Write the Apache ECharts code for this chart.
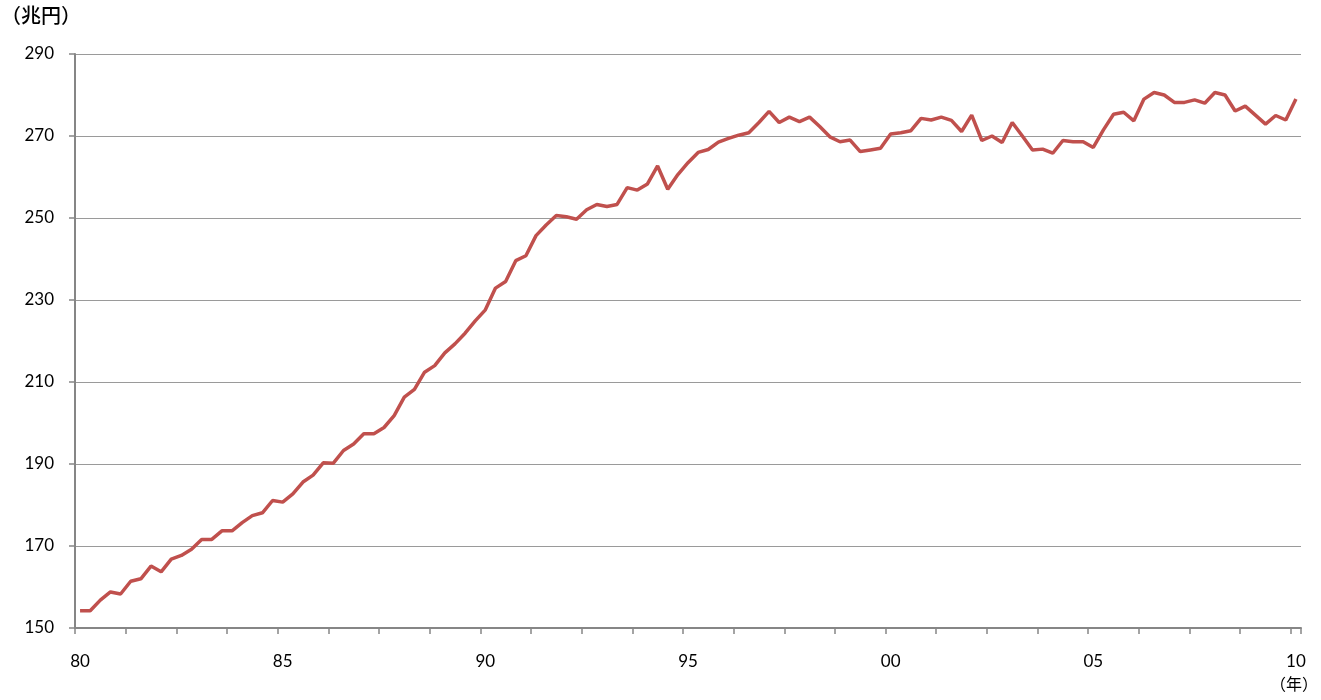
<!DOCTYPE html>
<html>
<head>
<meta charset="utf-8">
<script src="https://cdn.jsdelivr.net/npm/echarts@6/dist/echarts.min.js"></script>
<style>
  html, body { margin: 0; padding: 0; background: #fff; }
  #chart { width: 1321px; height: 700px; }
</style>
</head>
<body>
<div id="chart"></div>
<script>
// 四半期（1980Q1〜2010Q1）
var quarters = [];
for (var y = 1980; y <= 2010; y++) {
  for (var q = 1; q <= 4; q++) {
    if (y === 2010 && q > 1) break;
    quarters.push(y + "Q" + q);
  }
}

// 兆円
var values = [
  154.2, 154.2, 156.8, 158.8, 158.3, 161.4, 162.0, 165.1, 163.7, 166.8,
  167.7, 169.2, 171.6, 171.6, 173.7, 173.7, 175.7, 177.4, 178.1, 181.1,
  180.7, 182.7, 185.6, 187.3, 190.3, 190.2, 193.3, 194.9, 197.4, 197.4,
  198.9, 201.8, 206.3, 208.2, 212.4, 214.0, 217.1, 219.3, 221.9, 224.9,
  227.6, 232.9, 234.5, 239.6, 240.8, 245.7, 248.3, 250.6, 250.3, 249.7,
  252.0, 253.3, 252.8, 253.3, 257.4, 256.8, 258.3, 262.7, 257.0, 260.6,
  263.5, 266.0, 266.7, 268.5, 269.4, 270.2, 270.8, 273.3, 276.0, 273.3,
  274.6, 273.5, 274.6, 272.3, 269.8, 268.6, 269.0, 266.2, 266.6, 267.0,
  270.5, 270.8, 271.3, 274.3, 273.9, 274.6, 273.8, 271.1, 275.1, 268.9,
  270.0, 268.4, 273.3, 270.0, 266.6, 266.8, 265.8, 268.9, 268.6, 268.6,
  267.2, 271.5, 275.3, 275.8, 273.7, 279.0, 280.6, 280.0, 278.2, 278.2,
  278.8, 278.0, 280.6, 280.0, 276.1, 277.3, 275.1, 272.9, 275.0, 273.9,
  279.0
];

var yTicks = { min: 150, max: 290, interval: 20 };

var chart = echarts.init(document.getElementById("chart"));
var numFont = "Lato, 'Noto Sans', sans-serif";
var jpFont = "'Noto Sans CJK JP', sans-serif";

chart.setOption({
  animation: false,
  backgroundColor: "#fff",
  grid: { left: 75, right: 20, top: 54, bottom: 72 },
  graphic: [
    {
      type: "text", left: 1, top: 5,
      style: { text: "（兆円）", fontSize: 20, fontWeight: 500, fontFamily: jpFont, fill: "#000" }
    },
    {
      type: "text", left: 1270, top: 676,
      style: { text: "（年）", fontSize: 16, fontFamily: jpFont, fill: "#000" }
    }
  ],
  xAxis: {
    type: "category",
    data: quarters,
    boundaryGap: true,
    axisLine: { lineStyle: { color: "#868686", width: 2 } },
    axisTick: { show: true, interval: 4, length: 6, lineStyle: { color: "#868686", width: 1.5 } },
    axisLabel: {
      interval: 19,
      margin: 25,
      fontSize: 17,
      fontFamily: numFont,
      color: "#000",
      formatter: function (v) { return v.substr(2, 2); }
    },
    splitLine: { show: false }
  },
  yAxis: {
    type: "value",
    min: yTicks.min,
    max: yTicks.max,
    interval: yTicks.interval,
    axisLine: { show: true, lineStyle: { color: "#868686", width: 2 } },
    axisTick: { show: true, length: 6, lineStyle: { color: "#868686", width: 1.5 } },
    axisLabel: { margin: 21, fontSize: 17, fontFamily: numFont, color: "#000" },
    splitLine: { lineStyle: { color: "#9a9a9a", width: 1.2 } }
  },
  series: [
    {
      type: "line",
      data: values,
      symbol: "none",
      lineStyle: { color: "#c0504d", width: 3.5 },
      itemStyle: { color: "#c0504d" }
    }
  ]
});
</script>
</body>
</html>
